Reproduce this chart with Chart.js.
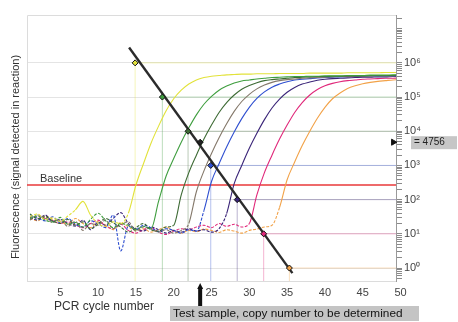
<!DOCTYPE html>
<html><head><meta charset="utf-8">
<script src="https://cdn.jsdelivr.net/npm/chart.js@4.4.1/dist/chart.umd.min.js"></script>
<style>html,body{margin:0;padding:0;background:#fff;}</style>
</head><body>
<canvas id="c" width="458" height="322"></canvas>
<script>
// ---- data (fluorescence given as log10 values) ----
const cycles = [1,2,3,4,5,6,7,8,9,10,11,12,13,14,15,16,17,18,19,20,21,22,23,24,25,26,27,28,29,30,31,32,33,34,35,36,37,38,39,40,41,42,43,44,45,46,47,48,49,50];
const yellowVals = [1.50,1.58,1.42,1.47,1.36,1.52,1.70,1.95,1.55,1.30,1.22,1.35,1.30,1.60,2.42,3.05,3.65,4.15,4.60,4.95,5.20,5.38,5.50,5.57,5.61,5.63,5.65,5.66,5.67,5.67,5.68,5.68,5.68,5.69,5.69,5.69,5.69,5.70,5.70,5.70,5.70,5.70,5.71,5.71,5.71,5.71,5.71,5.72,5.72,5.72];
const greenVals = [1.45,1.52,1.40,1.35,1.48,1.28,1.33,1.20,1.42,1.60,1.38,1.18,1.30,1.25,1.12,1.22,1.15,1.95,2.69,3.20,3.68,4.10,4.48,4.79,5.02,5.20,5.32,5.41,5.47,5.50,5.53,5.55,5.57,5.58,5.59,5.60,5.60,5.61,5.61,5.62,5.62,5.62,5.63,5.63,5.63,5.64,5.64,5.64,5.65,5.65];
const darkGreenVals = [1.58,1.44,1.50,1.38,1.30,1.42,1.25,1.35,1.15,1.28,1.45,1.32,1.20,1.05,1.18,1.30,1.12,1.08,1.20,1.25,2.14,2.79,3.30,3.77,4.18,4.55,4.84,5.06,5.23,5.34,5.42,5.48,5.51,5.53,5.55,5.57,5.58,5.59,5.60,5.60,5.61,5.61,5.62,5.62,5.62,5.63,5.63,5.63,5.63,5.64];
const testVals = [1.40,1.55,1.47,1.33,1.40,1.22,1.36,1.10,1.30,1.25,1.40,1.15,1.28,1.35,1.08,1.20,1.14,1.05,1.12,1.02,1.10,1.30,2.23,2.84,3.35,3.81,4.22,4.58,4.87,5.08,5.24,5.35,5.43,5.48,5.51,5.53,5.55,5.56,5.57,5.58,5.59,5.60,5.60,5.61,5.61,5.61,5.62,5.62,5.62,5.63];
const blueVals = [1.52,1.46,1.38,1.50,1.32,1.45,1.28,1.20,1.38,1.30,1.18,1.55,0.50,1.22,1.12,1.25,1.18,1.06,1.15,1.10,1.02,1.12,1.08,1.68,2.53,3.05,3.54,3.98,4.37,4.70,4.96,5.15,5.29,5.38,5.45,5.50,5.52,5.54,5.56,5.57,5.58,5.59,5.60,5.60,5.61,5.61,5.61,5.62,5.62,5.62];
const purpleVals = [1.48,1.40,1.55,1.36,1.42,1.30,1.22,1.40,1.12,1.33,1.25,1.45,1.62,1.30,1.15,1.08,1.20,1.12,1.02,1.10,1.05,1.15,1.08,1.12,1.05,1.15,1.59,2.47,3.00,3.50,3.94,4.34,4.68,4.94,5.14,5.28,5.38,5.44,5.49,5.52,5.54,5.55,5.56,5.57,5.58,5.58,5.59,5.59,5.60,5.60];
const magentaVals = [1.42,1.50,1.45,1.38,1.30,1.35,1.26,1.18,1.30,1.40,1.22,1.15,1.28,1.10,1.02,1.12,1.18,1.05,0.98,1.08,1.15,1.12,1.20,1.25,1.18,1.30,1.22,1.28,1.20,1.30,2.14,2.79,3.30,3.77,4.18,4.55,4.84,5.06,5.22,5.33,5.40,5.45,5.48,5.50,5.52,5.53,5.54,5.55,5.55,5.56];
const orangeVals = [1.46,1.38,1.52,1.42,1.35,1.28,1.45,1.30,1.18,1.36,1.25,1.12,1.33,1.20,1.10,1.15,1.05,1.12,1.20,1.08,1.02,1.10,1.06,1.14,1.10,1.04,1.12,1.08,1.02,1.10,1.14,1.20,1.25,1.77,2.58,3.10,3.58,4.00,4.38,4.70,4.95,5.12,5.25,5.33,5.39,5.43,5.46,5.48,5.50,5.51];

// standards: threshold cycle (Ct) and log10 copy number
const stdCt  = [14.9, 18.5, 21.9, 24.9, 28.4, 31.9, 35.3];
const stdLog = [6, 5, 4, 3, 2, 1, 0];
const stdLineCt  = [14.1, 35.7];
const stdLineLog = [6.45, -0.15];
const testCt = 23.5;
const testLog = 3.68;
const testCopies = '= 4756';
const baselineLog = 2.43;
const xTickValues = [5,10,15,20,25,30,35,40,45,50];
const decades = [0,1,2,3,4,5,6];
const supDigits = ['\u2070','\u00B9','\u00B2','\u00B3','\u2074','\u2075','\u2076'];

// ---- styling ----
const xMin = 0.6, xMax = 49.4, yMin = -0.38, yMax = 7.4;
const noiseLevel = 1.9;
const curveSeries = [
  {vals: yellowVals,    color: '#e2e23a'},
  {vals: greenVals,     color: '#3f9e3f'},
  {vals: darkGreenVals, color: '#3d6a34'},
  {vals: testVals,      color: '#84786a'},
  {vals: blueVals,      color: '#2f4fd0'},
  {vals: purpleVals,    color: '#3a2478'},
  {vals: magentaVals,   color: '#e0287a'},
  {vals: orangeVals,    color: '#f2a248'}
];
const stdColors = ['#e2e23a','#3f9e3f','#3d6a34','#2f4fd0','#3a2478','#e0287a','#f2a248'];
function pale(hex, a){ const n=parseInt(hex.slice(1),16); return `rgba(${n>>16},${(n>>8)&255},${n&255},${a})`; }

const datasets = [];
datasets.push({
  type:'scatter', order:0,
  data: stdCt.map((c,i)=>({x:c, y:stdLog[i]})).concat([{x:testCt, y:testLog}]),
  pointStyle:'rectRot', pointRadius:3,
  backgroundColor: stdColors.concat(['#222']), borderColor:'#111', borderWidth:1
});
datasets.push({
  type:'scatter', order:0, clip:false,
  data:[{x:xMax-0.35, y:testLog}],
  pointStyle:'triangle', rotation:90, pointRadius:3.5,
  backgroundColor:'#111', borderColor:'#111', borderWidth:1
});
datasets.push({
  type:'line', order:1,
  data: stdLineCt.map((c,i)=>({x:c, y:stdLineLog[i]})),
  borderColor:'#2b2b2b', borderWidth:2.4, pointRadius:0
});
curveSeries.forEach(s=>{
  datasets.push({
    type:'line', order:2,
    data: cycles.map((c,i)=>({x:c, y:s.vals[i]})),
    borderColor:s.color, borderWidth:1.1, pointRadius:0,
    cubicInterpolationMode:'monotone',
    segment:{ borderDash: c => (c.p0.parsed.y < noiseLevel && c.p1.parsed.y < noiseLevel) ? [3,1.5] : undefined }
  });
});
datasets.push({
  type:'line', order:3,
  data:[{x:xMin, y:baselineLog},{x:xMax, y:baselineLog}],
  borderColor:'#e8383a', borderWidth:1.4, pointRadius:0
});
stdCt.forEach((c,i)=>{
  datasets.push({type:'line', order:4, data:[{x:c,y:yMin},{x:c,y:stdLog[i]}],
    borderColor:pale(stdColors[i],0.35), borderWidth:1, pointRadius:0});
  datasets.push({type:'line', order:4, data:[{x:c,y:stdLog[i]},{x:xMax,y:stdLog[i]}],
    borderColor:pale(stdColors[i],0.35), borderWidth:1, pointRadius:0});
});

const minorTicks = [];
for (let n=-1; n<=7; n++) for (let k=1; k<=9; k++) { const v = n + Math.log10(k); if (v>=yMin && v<=yMax) minorTicks.push(v); }

const textPlugin = {
  id:'texts',
  beforeDatasetsDraw(chart){
    const {ctx, chartArea:a} = chart;
    ctx.save();
    ctx.strokeStyle='#dcdcdc'; ctx.lineWidth=1;
    ctx.beginPath(); ctx.moveTo(a.left+0.5, a.bottom); ctx.lineTo(a.left+0.5, a.top+0.5); ctx.lineTo(a.right, a.top+0.5); ctx.stroke();
    ctx.restore();
  },
  afterDraw(chart){
    const {ctx, scales:{x, y}} = chart;
    ctx.save();
    ctx.fillStyle='#333';
    ctx.font='11px "Liberation Sans", Arial, sans-serif';
    ctx.translate(16, 157); ctx.rotate(-Math.PI/2);
    ctx.textAlign='center'; ctx.textBaseline='middle';
    ctx.fillText('Fluorescence (signal detected in reaction)', 0, 0);
    ctx.setTransform(1,0,0,1,0,0);
    ctx.font='12px "Liberation Sans", Arial, sans-serif';
    ctx.textAlign='center'; ctx.textBaseline='middle';
    ctx.fillText('PCR cycle number', 104, 307);
    ctx.font='11px "Liberation Sans", Arial, sans-serif';
    ctx.textAlign='left'; ctx.textBaseline='alphabetic';
    ctx.fillText('Baseline', 40, y.getPixelForValue(baselineLog) - 3);
    const ty = y.getPixelForValue(testLog);
    ctx.fillStyle='#c6c6c6'; ctx.fillRect(411, ty-6, 46, 13);
    ctx.fillStyle='#222'; ctx.font='10px "Liberation Sans", Arial, sans-serif';
    ctx.textAlign='left'; ctx.textBaseline='middle';
    ctx.fillText(testCopies, 414, ty+0.5);
    const tx = x.getPixelForValue(testCt);
    ctx.fillStyle='#111';
    ctx.fillRect(tx-2, 287, 4, 19);
    ctx.beginPath(); ctx.moveTo(tx-3, 289); ctx.lineTo(tx, 283); ctx.lineTo(tx+3, 289); ctx.closePath(); ctx.fill();
    ctx.fillStyle='#c4c4c4'; ctx.fillRect(170, 306, 249, 15);
    ctx.fillStyle='#111'; ctx.font='11.8px "Liberation Sans", Arial, sans-serif';
    ctx.textAlign='left'; ctx.textBaseline='middle';
    ctx.fillText('Test sample, copy number to be determined', 173, 314);
    ctx.restore();
  }
};

new Chart(document.getElementById('c'), {
  data:{datasets},
  options:{
    responsive:false, animation:false,
    layout:{padding:{top:15, left:27, right:0, bottom:0}},
    plugins:{legend:{display:false}, tooltip:{enabled:false}},
    scales:{
      x:{type:'linear', min:xMin, max:xMax,
        afterBuildTicks: s => { s.ticks = xTickValues.map(v=>({value:v})); },
        ticks:{autoSkip:false, maxRotation:0, padding:5, color:'#444',
          font:{family:'"Liberation Sans", Arial, sans-serif', size:11}},
        grid:{display:false, drawTicks:false},
        border:{display:true, color:'#dcdcdc'},
        afterFit: s => { s.height = 41; }
      },
      y:{type:'linear', position:'right', min:yMin, max:yMax,
        afterBuildTicks: s => { s.ticks = minorTicks.map(v=>({value:v})); },
        ticks:{autoSkip:false, padding:2, color:'#444',
          font:{family:'"Liberation Sans", Arial, sans-serif', size:11},
          callback: v => decades.includes(v) ? '10' + supDigits[v] : ''},
        grid:{color: c => (c.tick && decades.includes(c.tick.value)) ? '#e4e4e4' : 'rgba(0,0,0,0)',
          tickColor:'#8a8a8a', tickLength:6, lineWidth:1},
        border:{display:true, color:'#9a9a9a'},
        afterFit: s => { s.width = 62; }
      }
    }
  },
  plugins:[textPlugin]
});
</script>
</body></html>
